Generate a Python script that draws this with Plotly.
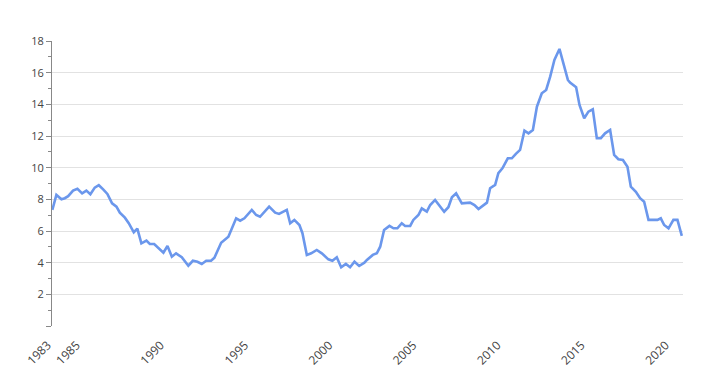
import plotly.graph_objects as go

# Decimal-year dates and values
years = [
    1983.30, 1983.54, 1983.84, 1984.04, 1984.24, 1984.53, 1984.79, 1985.07, 1985.32, 1985.56,
    1985.82, 1986.06, 1986.32, 1986.57, 1986.85, 1987.11, 1987.31, 1987.61, 1987.84, 1988.14,
    1988.35, 1988.59, 1988.89, 1989.09, 1989.35, 1989.54, 1989.90, 1990.14, 1990.40, 1990.65,
    1990.99, 1991.38, 1991.65, 1991.92, 1992.18, 1992.44, 1992.73, 1992.93, 1993.33, 1993.76,
    1994.22, 1994.46, 1994.71, 1995.15, 1995.41, 1995.64, 1996.18, 1996.54, 1996.77, 1997.23,
    1997.43, 1997.68, 1997.98, 1998.16, 1998.42, 1998.68, 1999.01, 1999.31, 1999.70, 1999.94,
    2000.20, 2000.46, 2000.74, 2000.99, 2001.25, 2001.53, 2001.84, 2001.99, 2002.34, 2002.58,
    2002.78, 2003.01, 2003.33, 2003.57, 2003.80, 2004.06, 2004.26, 2004.56, 2004.75, 2005.05,
    2005.25, 2005.55, 2005.75, 2006.04, 2006.34, 2006.58, 2006.83, 2007.04, 2007.29, 2007.63,
    2008.12, 2008.38, 2008.62, 2008.91, 2009.12, 2009.31, 2009.61, 2009.80, 2010.04, 2010.36,
    2010.60, 2010.84, 2011.09, 2011.35, 2011.59, 2011.85, 2012.09, 2012.38, 2012.64, 2012.88,
    2013.13, 2013.43, 2013.67, 2013.93, 2014.06, 2014.42, 2014.62, 2014.90, 2015.15, 2015.41,
    2015.65, 2015.89, 2016.14, 2016.44, 2016.68, 2016.93, 2017.20, 2017.47, 2017.67, 2017.97,
    2018.22, 2018.46, 2018.72, 2019.01, 2019.25, 2019.45, 2019.65, 2019.91, 2020.20, 2020.44,
    2020.70,
]
values = [
    7.33, 8.28, 8.00, 8.07, 8.20, 8.55, 8.67, 8.38, 8.55, 8.32,
    8.74, 8.89, 8.63, 8.34, 7.75, 7.54, 7.16, 6.84, 6.49, 5.92,
    6.15, 5.22, 5.39, 5.18, 5.18, 5.00, 4.63, 5.05, 4.38, 4.59,
    4.34, 3.81, 4.12, 4.06, 3.92, 4.12, 4.12, 4.31, 5.26, 5.64,
    6.80, 6.65, 6.80, 7.33, 7.01, 6.90, 7.54, 7.16, 7.08, 7.33,
    6.49, 6.70, 6.38, 5.86, 4.49, 4.59, 4.80, 4.59, 4.21, 4.12,
    4.34, 3.71, 3.92, 3.71, 4.06, 3.79, 4.00, 4.17, 4.49, 4.59,
    5.01, 6.06, 6.32, 6.17, 6.17, 6.49, 6.32, 6.32, 6.70, 7.01,
    7.43, 7.22, 7.64, 7.96, 7.58, 7.22, 7.50, 8.13, 8.38, 7.75,
    7.79, 7.64, 7.39, 7.64, 7.79, 8.70, 8.91, 9.65, 9.96, 10.59,
    10.59, 10.87, 11.12, 12.34, 12.17, 12.38, 13.85, 14.70, 14.91, 15.75,
    16.80, 17.50, 16.49, 15.54, 15.37, 15.08, 13.96, 13.12, 13.54, 13.69,
    11.86, 11.86, 12.17, 12.38, 10.80, 10.53, 10.49, 10.06, 8.80, 8.48,
    8.07, 7.85, 6.70, 6.70, 6.70, 6.80, 6.38, 6.17, 6.70, 6.70,
    5.69,
]

x_tick_vals = [1983.28, 1985, 1990, 1995, 2000, 2005, 2010, 2015, 2020]
x_tick_text = ["1983", "1985", "1990", "1995", "2000", "2005", "2010", "2015", "2020"]
y_tick_vals = [0, 2, 4, 6, 8, 10, 12, 14, 16, 18]
y_tick_text = ["", "2", "4", "6", "8", "10", "12", "14", "16", "18"]

fig = go.Figure()
fig.add_trace(go.Scatter(
    x=years, y=values, mode="lines",
    line=dict(color="#6b97ec", width=2.6),
    hoverinfo="x+y", showlegend=False,
))

yfont = dict(family="Open Sans, Liberation Sans, Arial, sans-serif", size=11, color="#444444")
xfont = dict(family="Open Sans, Liberation Sans, Arial, sans-serif", size=12, color="#444444")

fig.update_layout(
    width=709, height=383,
    margin=dict(l=52, r=26, t=41, b=57, autoexpand=False),
    paper_bgcolor="white", plot_bgcolor="white",
    font=yfont,
    xaxis=dict(
        range=[1983.28, 2020.77], automargin=False,
        tickmode="array", tickvals=x_tick_vals,
        ticktext=[t + "\u00a0\u00a0" for t in x_tick_text],
        tickangle=-45, showgrid=False, zeroline=False, showline=False,
        ticks="outside", ticklen=2, tickcolor="rgba(0,0,0,0)", tickfont=xfont,
    ),
    yaxis=dict(
        range=[0, 18], automargin=False,
        tickmode="array", tickvals=y_tick_vals, ticktext=y_tick_text,
        showgrid=True, gridcolor="#e2e2e2", gridwidth=1,
        zeroline=False, showline=True, linecolor="#888888", linewidth=1,
        ticks="outside", ticklen=5, tickcolor="#888888", tickwidth=1,
        minor=dict(dtick=1, tick0=0, ticks="outside", ticklen=3, tickcolor="#888888", showgrid=False),
        tickfont=yfont,
    ),
)

fig.write_html(
    "out.html",
    config={"displayModeBar": False},
    post_script="document.body.style.margin='0';document.body.style.overflow='hidden';",
)
